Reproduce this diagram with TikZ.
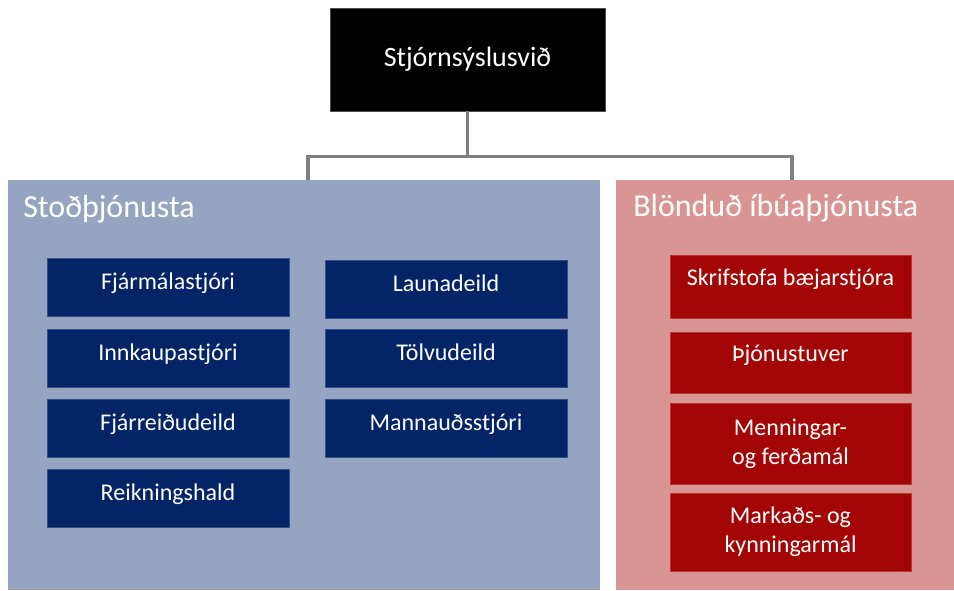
\documentclass[tikz,border=0pt]{standalone}
\usepackage{fontspec}
\setmainfont{Carlito}
\usetikzlibrary{positioning}

\definecolor{stodbg}{RGB}{149,165,193}
\definecolor{stodbox}{RGB}{3,36,102}
\definecolor{ibuabg}{RGB}{217,149,148}
\definecolor{ibuabox}{RGB}{163,5,5}
\definecolor{linkgray}{RGB}{128,128,128}

\tikzset{
	panel/.style={inner sep=0pt, minimum height=307.5pt},
	paneltitle/.style={anchor=base west, inner sep=0pt, text=white, font=\fontsize{24}{28}\selectfont},
	unit/.style={inner sep=0pt, text=white, font=\fontsize{18}{22}\selectfont, minimum width=181.5pt, minimum height=43.5pt},
	oneline/.style={text height=12pt, text depth=13pt},
	stodunit/.style={unit, fill=stodbox, draw=stodbox!80!white, line width=0.4pt, text height=13pt, text depth=10pt},
	ibuaunit/.style={unit, fill=ibuabox, draw=ibuabox!80!white, line width=0.4pt, minimum width=180.75pt, align=center},
	link/.style={draw=linkgray, line width=2.4pt}
}

\begin{document}
\begin{tikzpicture}[x=0.75pt, y=-0.75pt]
		%%%%% START %%%%%
		\useasboundingbox (0, 0) rectangle (954, 590);
		
		% top
		\node[fill=black, draw=gray!60!black, line width=0.6pt, text=white, font=\fontsize{21}{25}\selectfont, minimum width=206.25pt, minimum height=77.25pt] (svid) at (467.5, 59.5) {Stjórnsýslusvið};
		
		% the two panels
		\node[panel, fill=stodbg, minimum width=444pt] (stod) at (304, 385) {};
		\node[panel, fill=ibuabg, minimum width=253.5pt] (ibua) at (785, 385) {};
		\node[paneltitle] (stodtitle) at (23, 217) {Stoðþjónusta};
		\node[paneltitle] (ibuatitle) at (633, 216) {Blönduð íbúaþjónusta};
		
		\draw[link] (svid.south) -- ++(0, 45) -| ([xshift=3pt]stod.north);
		\draw[link] (svid.south) ++(0, 45) -| ([xshift=5.25pt]ibua.north);
		
		% stoðþjónusta, left
		\node[stodunit] (fjarmal) at (168, 287.5) {Fjármálastjóri};
		\node[stodunit] (innkaup) at (168, 358) {Innkaupastjóri};
		\node[stodunit] (fjarreidu) at (168, 428) {Fjárreiðudeild};
		\node[stodunit] (reikn) at (168, 498.5) {Reikningshald};
		
		% stoðþjónusta, right
		\node[stodunit] (launa) at (446, 289.5) {Launadeild};
		\node[stodunit] (tolvu) at (446, 358) {Tölvudeild};
		\node[stodunit] (mannaud) at (446, 428) {Mannauðsstjóri};
		
		% íbúaþjónusta
		\node[ibuaunit, oneline, minimum height=47.25pt] (skrifst) at (790.5, 286.5) {Skrifstofa bæjarstjóra};
		\node[ibuaunit, oneline, minimum height=45.75pt] (thjon) at (790.5, 362.5) {Þjónustuver};
		\node[ibuaunit, minimum height=60.75pt] (menning) at (790.5, 443.5) {Menningar-\\og ferðamál};
		\node[ibuaunit, minimum height=58.5pt] (markad) at (790.5, 532) {Markaðs- og\\kynningarmál};
		%%%%% END %%%%%
	\end{tikzpicture}
\end{document}
